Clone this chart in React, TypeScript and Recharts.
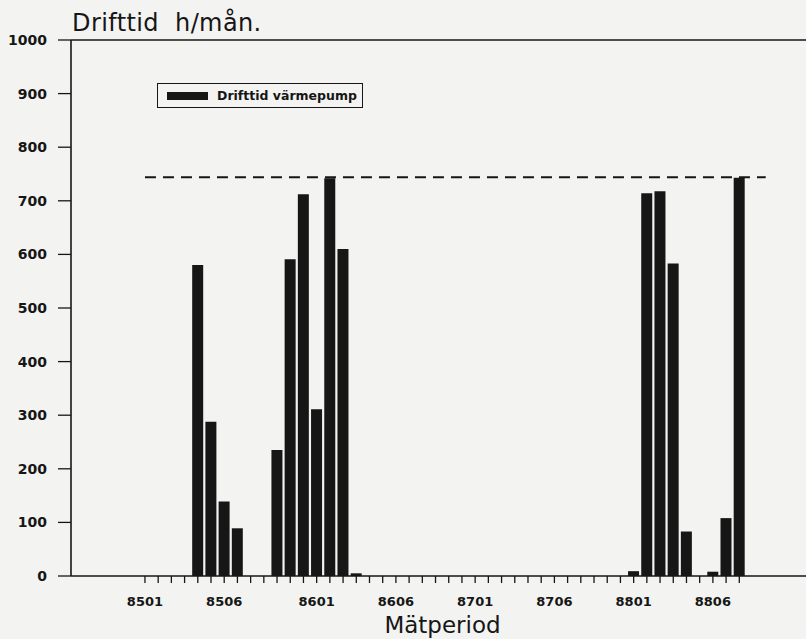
import React from 'react';
import { ComposedChart, Bar, XAxis, YAxis, ReferenceLine, Legend } from 'recharts';

// Monthly periods, 8501 .. 8810
const months: string[] = [
  '8501', '8502', '8503', '8504', '8505', '8506', '8507', '8508', '8509', '8510', '8511', '8512',
  '8601', '8602', '8603', '8604', '8605', '8606', '8607', '8608', '8609', '8610', '8611', '8612',
  '8701', '8702', '8703', '8704', '8705', '8706', '8707', '8708', '8709', '8710', '8711', '8712',
  '8801', '8802', '8803', '8804', '8805', '8806', '8807', '8808', '8809', '8810',
];

// Heat pump running time, hours per month
const runHours: number[] = [
  0, 0, 0, 0, 580, 288, 139, 89, 0, 0, 235, 591,
  712, 311, 742, 610, 5, 0, 0, 0, 0, 0, 0, 0,
  0, 0, 0, 0, 0, 0, 0, 0, 0, 0, 0, 0,
  0, 9, 714, 718, 583, 83, 0, 8, 108, 743,
];

// Axis label texts and the month index each one sits under
const tickLabels: string[] = ['8501', '8506', '8601', '8606', '8701', '8706', '8801', '8806'];
const tickLabelIndex: number[] = [0, 6, 13, 19, 25, 31, 37, 43];

const yTicks: number[] = [0, 100, 200, 300, 400, 500, 600, 700, 800, 900, 1000];

// Maximum possible hours in a month (31 days x 24 h)
const maxHours = 744;

const rows = months.map((m, i) => ({ idx: i, month: m, hours: runHours[i] }));
const monthTicks = months.map((_, i) => i);

const FONT = '"DejaVu Sans", Verdana, sans-serif';
const INK = '#161616';

const MonthTick = (props: any) => {
  const { x, y, payload } = props;
  const pos = tickLabelIndex.indexOf(payload.value);
  if (pos < 0) return null;
  return (
    <text
      x={x}
      y={y}
      dy="0.71em"
      textAnchor="middle"
      fontFamily={FONT}
      fontSize={13}
      fontWeight="bold"
      fill={INK}
    >
      {tickLabels[pos]}
    </text>
  );
};

const LegendBox = () => (
  <div
    style={{
      width: 206,
      height: 25,
      boxSizing: 'border-box',
      border: `1.5px solid ${INK}`,
      display: 'flex',
      alignItems: 'center',
      paddingLeft: 9,
      fontFamily: FONT,
      fontSize: 12.5,
      fontWeight: 'bold',
      color: INK,
      whiteSpace: 'nowrap',
    }}
  >
    <span style={{ display: 'inline-block', width: 41, height: 8, background: INK, marginRight: 9 }} />
    <span>Drifttid värmepump</span>
  </div>
);

export default function App() {
  return (
    <div
      style={{
        position: 'absolute',
        left: 0,
        top: 0,
        width: 806,
        height: 639,
        background: '#f3f3f1',
        overflow: 'hidden',
      }}
    >
      <div
        style={{
          position: 'absolute',
          left: 72,
          top: 9,
          fontFamily: FONT,
          fontSize: 24,
          letterSpacing: 0.4,
          color: INK,
          whiteSpace: 'pre',
        }}
      >
        {'Drifttid  h/mån.'}
      </div>
      <ComposedChart
        width={806}
        height={639}
        data={rows}
        margin={{ top: 40, right: 0, bottom: 0, left: 0 }}
      >
        <XAxis
          dataKey="idx"
          type="number"
          domain={[-5.6, 50.05]}
          allowDataOverflow
          ticks={monthTicks}
          interval={0}
          height={63}
          tickSize={7}
          tickMargin={14}
          tick={<MonthTick />}
          axisLine={{ stroke: INK, strokeWidth: 1.6 }}
          tickLine={{ stroke: INK, strokeWidth: 1.3 }}
          label={{
            value: 'Mätperiod',
            position: 'insideBottom',
            offset: 6,
            dx: 4,
            fontSize: 23,
            fontFamily: FONT,
            fill: INK,
          }}
        />
        <YAxis
          type="number"
          domain={[0, 1000]}
          ticks={yTicks}
          interval={0}
          width={71}
          tickSize={13}
          tickMargin={11}
          axisLine={{ stroke: INK, strokeWidth: 1.6 }}
          tickLine={{ stroke: INK, strokeWidth: 1.3 }}
          tick={{ fontFamily: FONT, fontSize: 14, fontWeight: 'bold', fill: INK }}
        />
        <ReferenceLine y={1000} stroke={INK} strokeWidth={1.6} />
        <ReferenceLine
          segment={[
            { x: 0, y: maxHours },
            { x: 47, y: maxHours },
          ]}
          stroke={INK}
          strokeWidth={2}
          strokeDasharray="11 7"
        />
        <Legend
          content={<LegendBox />}
          layout="horizontal"
          align="center"
          verticalAlign="middle"
          wrapperStyle={{ left: 157, top: 83, width: 206, height: 25 }}
        />
        <Bar
          dataKey="hours"
          name="Drifttid värmepump"
          fill={INK}
          barSize={11}
          isAnimationActive={false}
        />
      </ComposedChart>
    </div>
  );
}
